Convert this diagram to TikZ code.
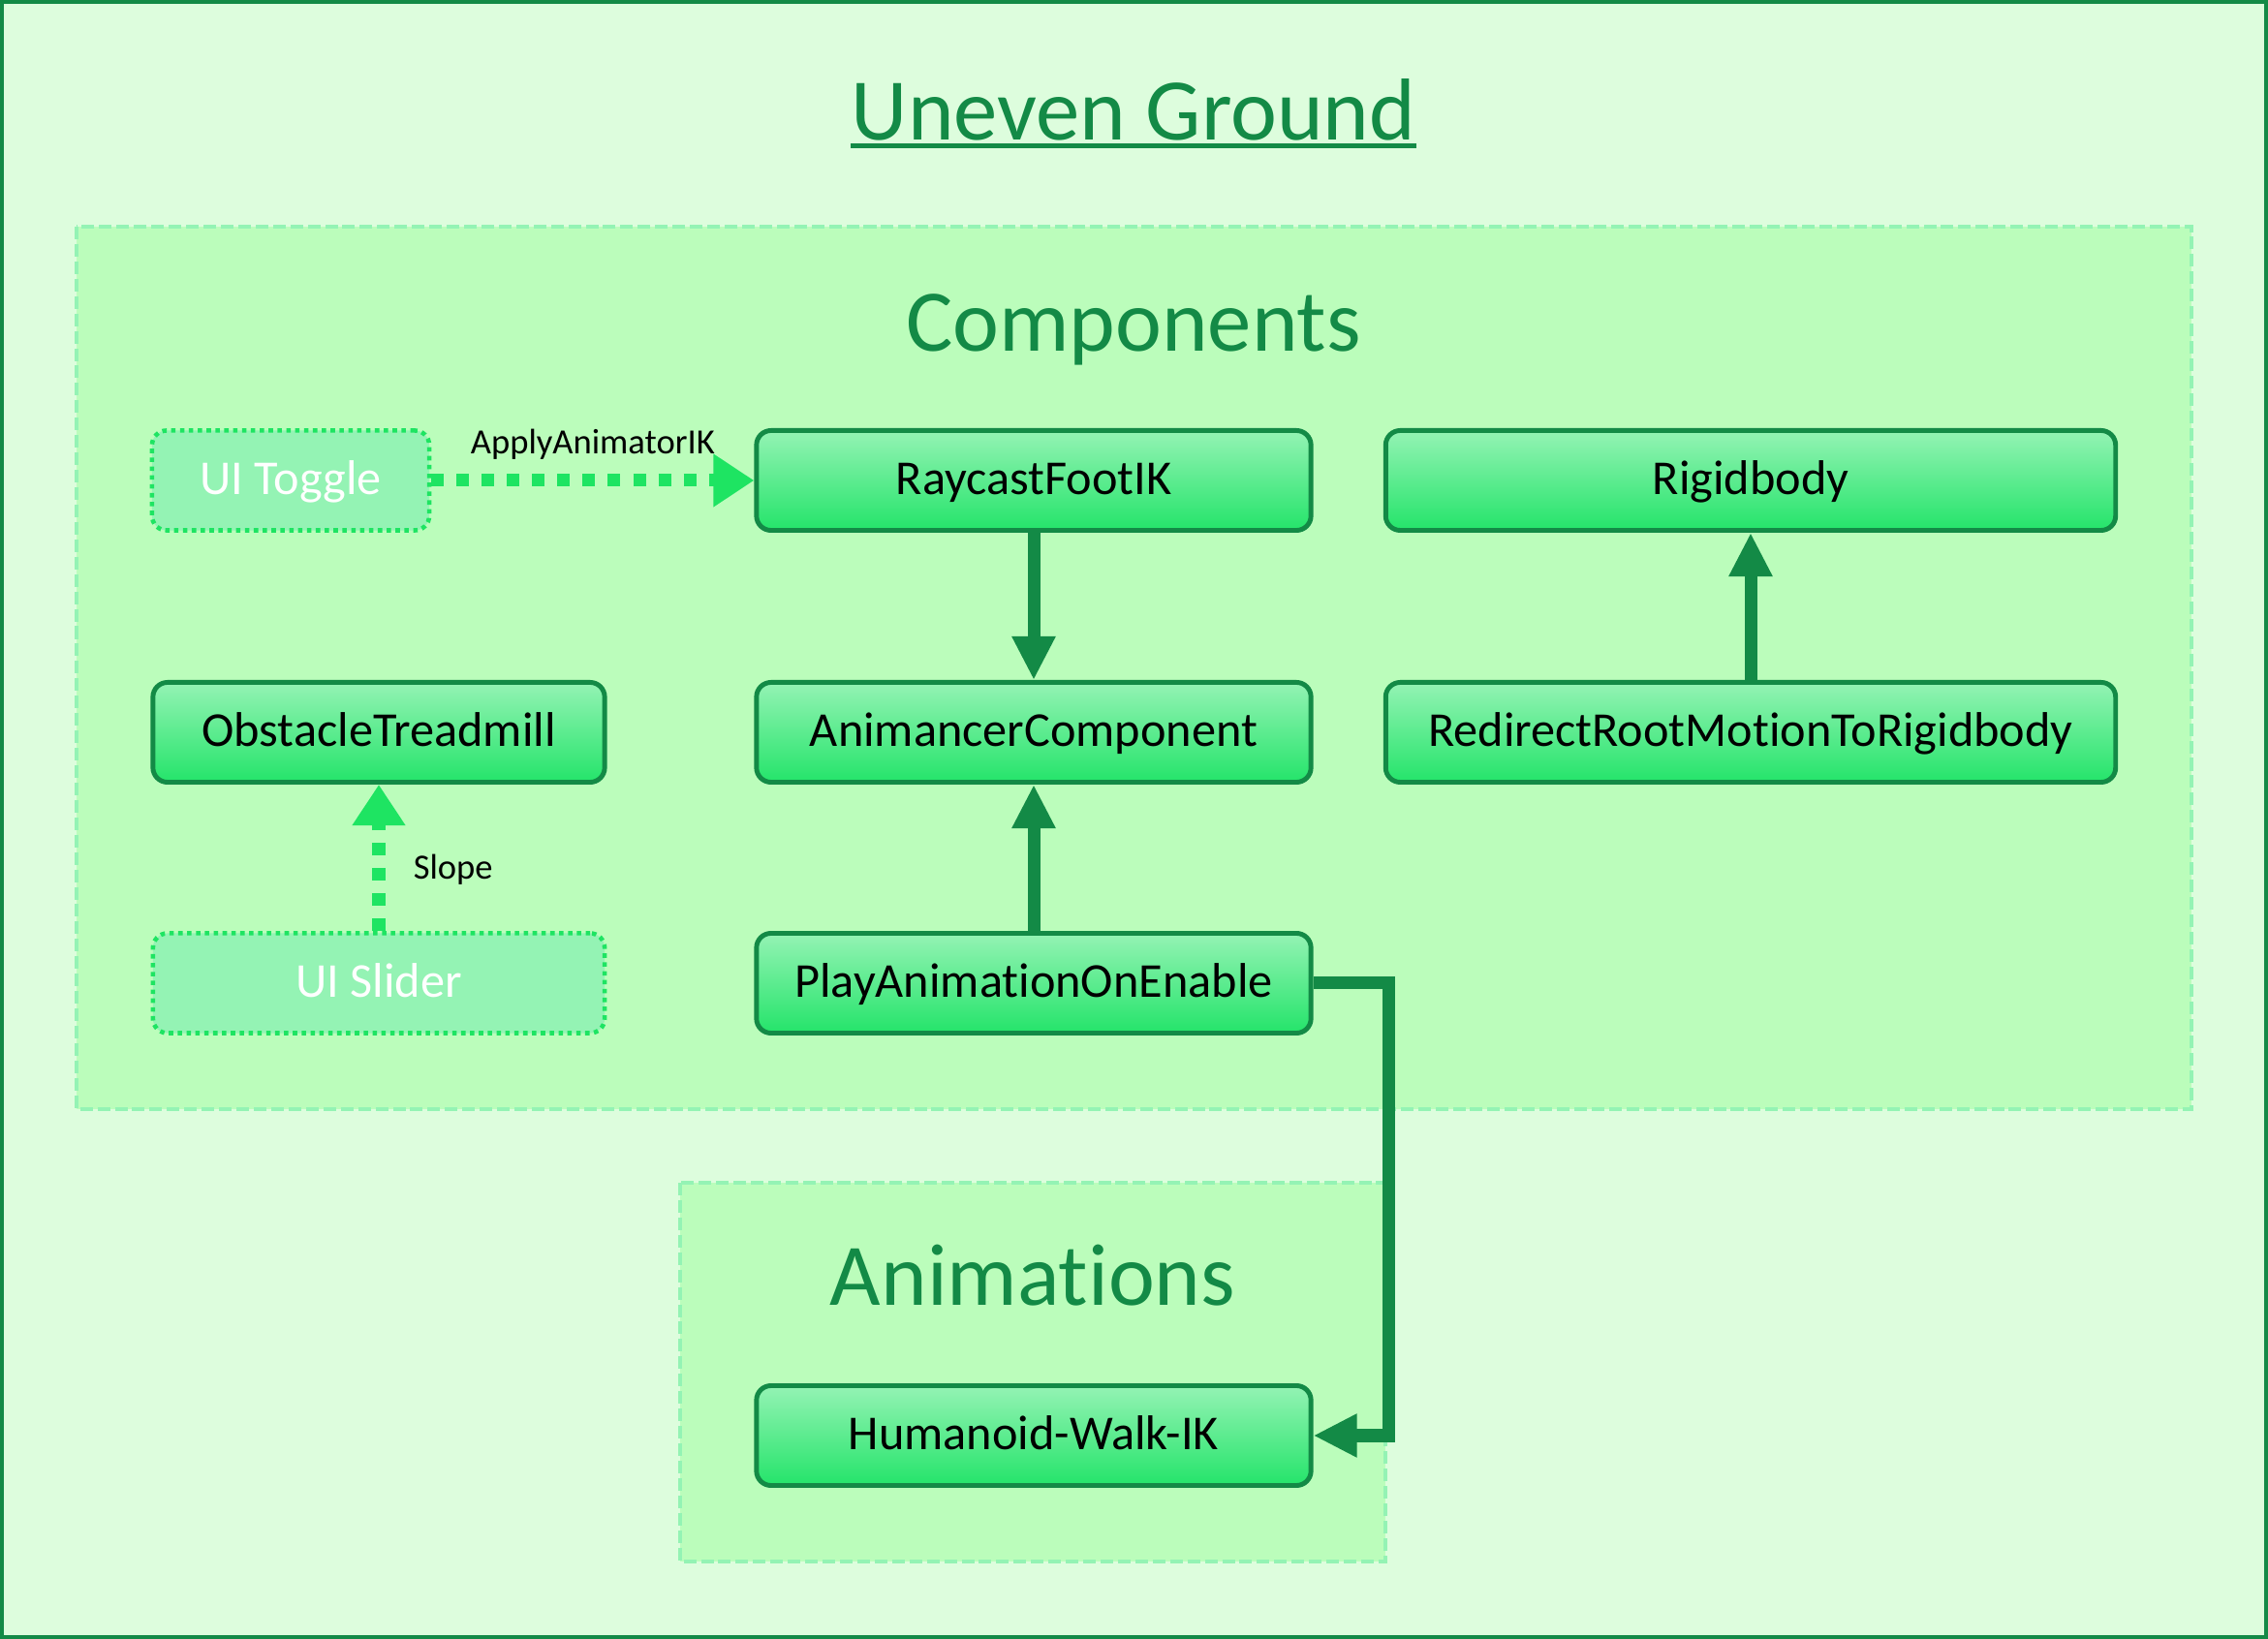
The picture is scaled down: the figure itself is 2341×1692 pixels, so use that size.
\documentclass[tikz,border=0pt]{standalone}
\usepackage{fontspec}
\setmainfont{Carlito}[Ligatures=NoCommon]
\usetikzlibrary{arrows.meta}

\definecolor{darkgreen}{HTML}{138A46}
\definecolor{mintbg}{HTML}{DDFDDD}
\definecolor{groupfill}{HTML}{BBFDBB}
\definecolor{groupline}{HTML}{94F3B4}
\definecolor{nodetop}{HTML}{94F3B4}
\definecolor{nodebottom}{HTML}{24E46A}
\definecolor{uiline}{HTML}{1EE462}

\begin{document}
\begin{tikzpicture}[x=0.01cm, y=-0.01cm,
    comp/.style={draw=darkgreen, line width=1.4pt, rounded corners=0.15cm,
        top color=nodetop, bottom color=nodebottom, minimum height=1.03cm,
        text height=0.82em, text depth=0pt, font=\fontsize{14.3}{17}\selectfont},
    uinode/.style={draw=uiline, line width=1.3pt, dash pattern=on 1.3pt off 1.3pt,
        rounded corners=0.15cm, fill=nodetop, text=white, minimum height=1.03cm,
        text height=0.82em, text depth=0pt, font=\fontsize{14.3}{17}\selectfont},
    groupbox/.style={fill=groupfill, draw=groupline, line width=1.4pt,
        dash pattern=on 3.7pt off 1.4pt},
    grouptitle/.style={anchor=base, text=darkgreen, font=\fontsize{25.8}{30}\selectfont},
    link/.style={draw=darkgreen, line width=0.13cm, line join=miter,
        -{Triangle[length=0.45cm, width=0.42cm]}},
    uilink/.style={draw=uiline, line width=0.13cm, dash pattern=on 0.13cm off 0.13cm,
        -{Triangle[length=0.42cm, width=0.52cm]}},
    edgelabel/.style={font=\fontsize{10.4}{12}\selectfont, text=black}]

    % page and frame
    \useasboundingbox (0,0) rectangle (2341,1692);
    \fill[mintbg] (0,0) rectangle (2341,1692);
    \draw[darkgreen, line width=1pt] (2,2) rectangle (2339,1690);

    % title
    \node[grouptitle, inner sep=0pt] (title) at (1170,145) {Uneven Ground};
    \draw[darkgreen, line width=1.3pt] ([yshift=-1.6pt]title.base west) -- ([yshift=-1.6pt]title.base east);

    % groups
    \draw[groupbox] (79,234) rectangle (2262,1145);
    \node[grouptitle] (comptitle) at (1170,363) {Components};
    \draw[groupbox] (702,1221) rectangle (1430,1612);
    \node[grouptitle] (animtitle) at (1066,1348) {Animations};

    % nodes
    \node[uinode, minimum width=2.86cm] (toggle) at (300,496) {UI Toggle};
    \node[comp, minimum width=5.72cm] (raycast) at (1067,496) {RaycastFootIK};
    \node[comp, minimum width=7.53cm] (rigidbody) at (1807,496) {Rigidbody};
    \node[comp, minimum width=4.66cm] (treadmill) at (391,756) {ObstacleTreadmill};
    \node[comp, minimum width=5.72cm] (animancer) at (1067,756) {AnimancerComponent};
    \node[comp, minimum width=7.53cm] (redirect) at (1807,756) {RedirectRootMotionToRigidbody};
    \node[uinode, minimum width=4.66cm] (slider) at (391,1015) {UI Slider};
    \node[comp, minimum width=5.72cm] (play) at (1067,1015) {PlayAnimationOnEnable};
    \node[comp, minimum width=5.72cm] (walk) at (1067,1482) {Humanoid-Walk-IK};

    % connectors
    \draw[uilink] (toggle) -- node[above=1pt, edgelabel] {ApplyAnimatorIK} (raycast);
    \draw[uilink] (slider) -- node[pos=0.42, right=5pt, edgelabel] {Slope} (treadmill);
    \draw[link] (raycast) -- (animancer);
    \draw[link] (play) -- (animancer);
    \draw[link] (redirect) -- (rigidbody);
    \coordinate (bend) at (1433,1015);
    \draw[link] (play.east) -- (bend) |- (walk.east);
\end{tikzpicture}
\end{document}
